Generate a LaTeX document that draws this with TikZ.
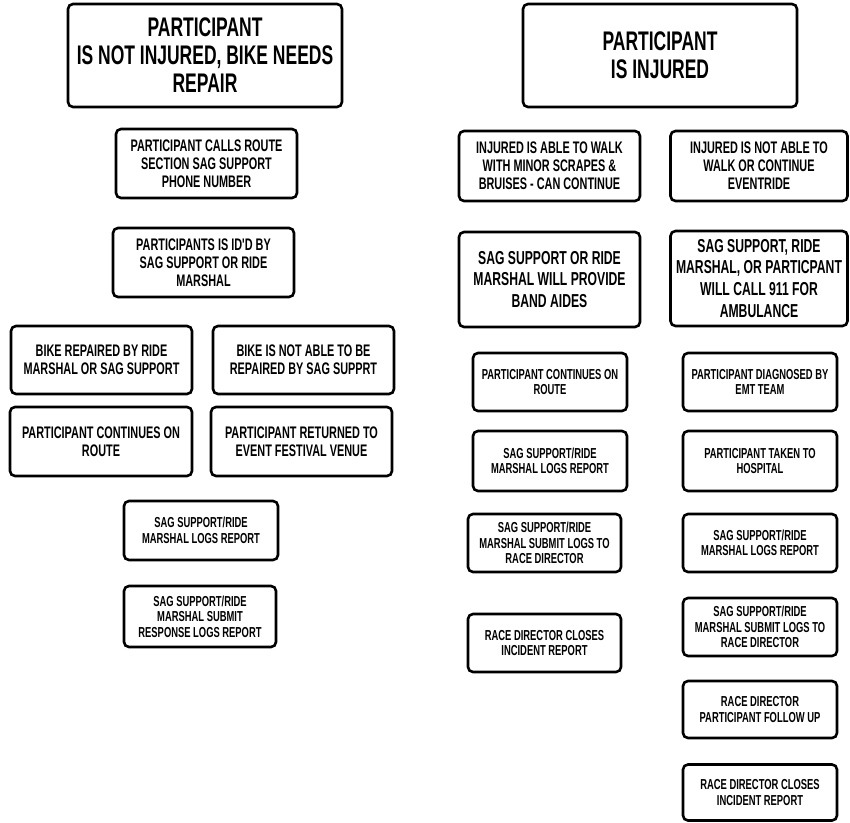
\documentclass[tikz,border=0pt]{standalone}
\usepackage{fontspec}
\newfontfamily\signfont[FakeStretch=0.65]{Liberation Sans}
\usetikzlibrary{positioning}

\begin{document}
\begin{tikzpicture}[x=1bp,y=-1bp,
  sign/.style={draw, line width=2.6bp, rounded corners=5bp, align=center, inner sep=0pt},
  bigsign/.style={sign, font=\signfont\bfseries\fontsize{27}{28}\selectfont},
  midsign/.style={sign, font=\signfont\bfseries\fontsize{16.8}{18}\selectfont},
  widesign/.style={sign, font=\signfont\bfseries\fontsize{18.8}{22}\selectfont},
  smallsign/.style={sign, font=\signfont\bfseries\fontsize{14.5}{15.5}\selectfont}]
  \useasboundingbox (0,0) rectangle (850,823);
  % not injured, bike needs repair
  \node [bigsign, minimum width=274bp, minimum height=103bp] (bike) at (205,55.5)
    {PARTICIPANT\\IS NOT INJURED, BIKE NEEDS\\REPAIR};
  \node [midsign, minimum width=181bp, minimum height=69bp] (calls) at (206.5,163.5)
    {PARTICIPANT CALLS ROUTE\\SECTION SAG SUPPORT\\PHONE NUMBER};
  \node [midsign, minimum width=181bp, minimum height=69bp] (idd) at (203.5,262.5)
    {PARTICIPANTS IS ID'D BY\\SAG SUPPORT OR RIDE\\MARSHAL};
  \node [midsign, minimum width=181bp, minimum height=68bp] (fixed) at (101.5,360)
    {BIKE REPAIRED BY RIDE\\MARSHAL OR SAG SUPPORT};
  \node [midsign, minimum width=181bp, minimum height=68bp] (notfixed) at (303.5,360)
    {BIKE IS NOT ABLE TO BE\\REPAIRED BY SAG SUPPRT};
  \node [midsign, minimum width=182bp, minimum height=69bp] (onroute) at (101,441.5)
    {PARTICIPANT CONTINUES ON\\ROUTE};
  \node [midsign, minimum width=181bp, minimum height=69bp] (returned) at (301.5,441.5)
    {PARTICIPANT RETURNED TO\\EVENT FESTIVAL VENUE};
  \node [smallsign, minimum width=154bp, minimum height=59bp] (logs) at (201,530.5)
    {SAG SUPPORT/RIDE\\MARSHAL LOGS REPORT};
  \node [smallsign, minimum width=152bp, minimum height=61bp] (submit) at (200,616.5)
    {SAG SUPPORT/RIDE\\MARSHAL SUBMIT\\RESPONSE LOGS REPORT};
  % injured
  \node [bigsign, minimum width=274bp, minimum height=103bp] (injured) at (660,55.5)
    {PARTICIPANT\\IS INJURED};
  \node [midsign, minimum width=181bp, minimum height=70bp] (walk) at (549.5,166)
    {INJURED IS ABLE TO WALK\\WITH MINOR SCRAPES \&\\BRUISES - CAN CONTINUE};
  \node [midsign, minimum width=177bp, minimum height=70bp] (nowalk) at (759,166)
    {INJURED IS NOT ABLE TO\\WALK OR CONTINUE\\EVENTRIDE};
  \node [widesign, minimum width=181bp, minimum height=95bp] (aides) at (549.5,279.5)
    {SAG SUPPORT OR RIDE\\MARSHAL WILL PROVIDE\\BAND AIDES};
  \node [widesign, minimum width=177bp, minimum height=95bp] (call911) at (759,278.5)
    {SAG SUPPORT, RIDE\\MARSHAL, OR PARTICPANT\\WILL CALL 911 FOR\\AMBULANCE};
  \node [smallsign, minimum width=154bp, minimum height=58bp] (continues) at (550,382)
    {PARTICIPANT CONTINUES ON\\ROUTE};
  \node [smallsign, minimum width=154bp, minimum height=58bp] (emt) at (760,382)
    {PARTICIPANT DIAGNOSED BY\\EMT TEAM};
  \node [smallsign, minimum width=154bp, minimum height=60bp] (logsa) at (550,461)
    {SAG SUPPORT/RIDE\\MARSHAL LOGS REPORT};
  \node [smallsign, minimum width=154bp, minimum height=60bp] (hospital) at (760,461)
    {PARTICIPANT TAKEN TO\\HOSPITAL};
  \node [smallsign, minimum width=153bp, minimum height=58bp] (submita) at (544.5,543)
    {SAG SUPPORT/RIDE\\MARSHAL SUBMIT LOGS TO\\RACE DIRECTOR};
  \node [smallsign, minimum width=154bp, minimum height=58bp] (logsb) at (760,543)
    {SAG SUPPORT/RIDE\\MARSHAL LOGS REPORT};
  \node [smallsign, minimum width=153bp, minimum height=58bp] (closea) at (544.5,643)
    {RACE DIRECTOR CLOSES\\INCIDENT REPORT};
  \node [smallsign, minimum width=154bp, minimum height=58bp] (submitb) at (760,627)
    {SAG SUPPORT/RIDE\\MARSHAL SUBMIT LOGS TO\\RACE DIRECTOR};
  \node [smallsign, minimum width=154bp, minimum height=57bp] (followup) at (760,709.5)
    {RACE DIRECTOR\\PARTICIPANT FOLLOW UP};
  \node [smallsign, minimum width=154bp, minimum height=56bp] (closeb) at (760,792.5)
    {RACE DIRECTOR CLOSES\\INCIDENT REPORT};
\end{tikzpicture}
\end{document}
